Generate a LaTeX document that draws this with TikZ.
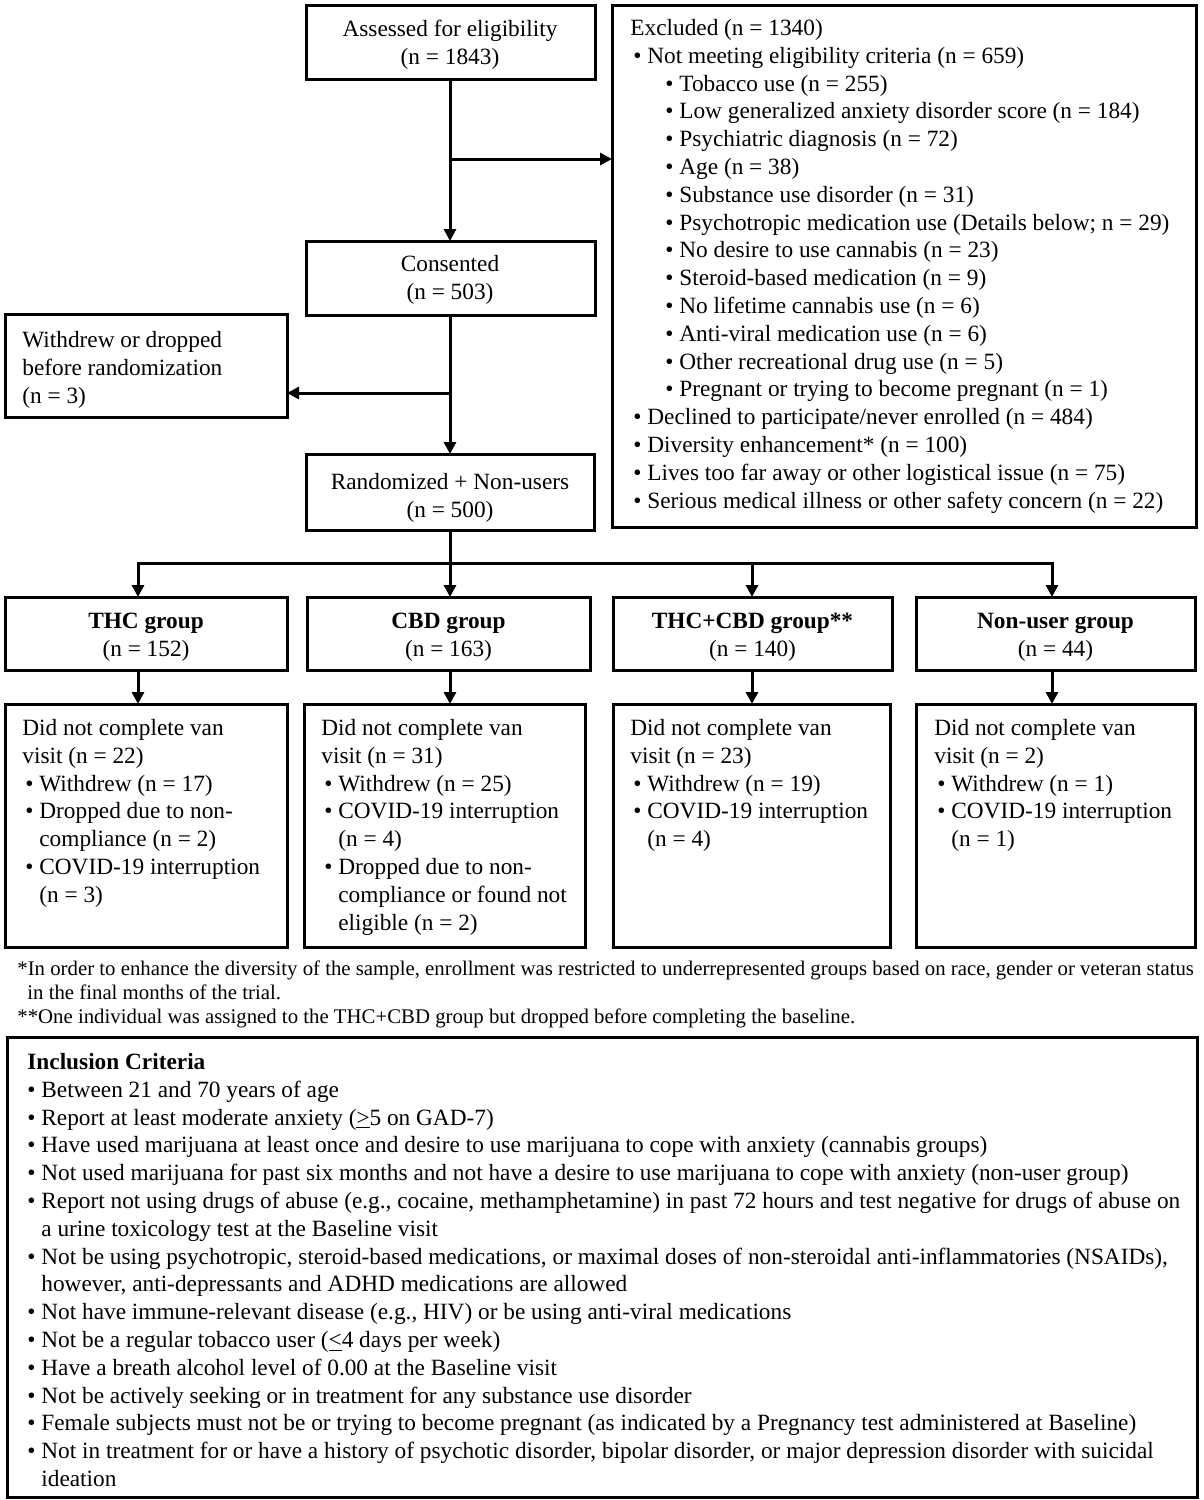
\documentclass[tikz,border=0pt]{standalone}
\usepackage{fontspec}
\setmainfont{Liberation Serif}
\usetikzlibrary{arrows.meta,fit}
\newcommand{\mystrut}{\rule{0pt}{9pt}}
\newcommand{\bul}{\textbullet\ }
\newcommand{\cont}{\hphantom{\textbullet\ }}
\begin{document}
\begin{tikzpicture}[x=0.5pt,y=-0.5pt,
  box/.style={draw, line width=1.5pt, inner sep=0pt, outer sep=0pt},
  arr/.style={line width=1.5pt, -{Triangle[length=6pt,width=6pt]}},
  ln/.style={line width=1.5pt},
  txt/.style={inner sep=0pt, anchor=north west, align=left, font=\fontsize{11.65}{13.9}\selectfont},
  ctxt/.style={inner sep=0pt, anchor=north, align=center, font=\fontsize{11.65}{13.9}\selectfont},
  ftxt/.style={inner sep=0pt, anchor=north west, align=left, font=\fontsize{10.4}{12}\selectfont}]
\useasboundingbox (0,0) rectangle (1204,1500);

% boxes
\node[box, fit={(306,5) (595,79)}] (assess) {};
\node[box, fit={(612,5) (1196,527)}] (excl) {};
\node[box, fit={(306,241) (595,315)}] (consent) {};
\node[box, fit={(5,314) (287,417)}] (wd) {};
\node[box, fit={(306,454) (594,530)}] (random) {};
\node[box, fit={(5,597) (287,670)}] (thcg) {};
\node[box, fit={(307,597) (590,670)}] (cbdg) {};
\node[box, fit={(613,597) (892,670)}] (tcg) {};
\node[box, fit={(916,597) (1195,670)}] (nug) {};
\node[box, fit={(5,704) (287,947)}] (thcd) {};
\node[box, fit={(304,704) (585,947)}] (cbdd) {};
\node[box, fit={(613,704) (890,947)}] (tcd) {};
\node[box, fit={(916,704) (1195,947)}] (nud) {};
\node[box, fit={(7,1037) (1197,1497)}] (incl) {};

% texts
\node[ctxt] (tassess) at (450,18) {\mystrut Assessed for eligibility\\(n = 1843)};
\node[ctxt] (tconsent) at (450,253) {\mystrut Consented\\(n = 503)};
\node[ctxt] (trandom) at (450,471) {\mystrut Randomized + Non-users\\(n = 500)};
\node[txt] (twd) at (22,329) {\mystrut Withdrew or dropped\\before randomization\\(n = 3)};
\node[txt] (texcl) at (630,17) {\mystrut Excluded (n = 1340)\\
\hspace*{1.5pt}\bul Not meeting eligibility criteria (n = 659)\\
\hspace*{17.5pt}\bul Tobacco use (n = 255)\\
\hspace*{17.5pt}\bul Low generalized anxiety disorder score (n = 184)\\
\hspace*{17.5pt}\bul Psychiatric diagnosis (n = 72)\\
\hspace*{17.5pt}\bul Age (n = 38)\\
\hspace*{17.5pt}\bul Substance use disorder (n = 31)\\
\hspace*{17.5pt}\bul Psychotropic medication use (Details below; n = 29)\\
\hspace*{17.5pt}\bul No desire to use cannabis (n = 23)\\
\hspace*{17.5pt}\bul Steroid-based medication (n = 9)\\
\hspace*{17.5pt}\bul No lifetime cannabis use (n = 6)\\
\hspace*{17.5pt}\bul Anti-viral medication use (n = 6)\\
\hspace*{17.5pt}\bul Other recreational drug use (n = 5)\\
\hspace*{17.5pt}\bul Pregnant or trying to become pregnant (n = 1)\\
\hspace*{1.5pt}\bul Declined to participate/never enrolled (n = 484)\\
\hspace*{1.5pt}\bul Diversity enhancement* (n = 100)\\
\hspace*{1.5pt}\bul Lives too far away or other logistical issue (n = 75)\\
\hspace*{1.5pt}\bul Serious medical illness or other safety concern (n = 22)};

\node[ctxt] (tthcg) at (146,610) {\mystrut\textbf{THC group}\\(n = 152)};
\node[ctxt] (tcbdg) at (448.5,610) {\mystrut\textbf{CBD group}\\(n = 163)};
\node[ctxt] (ttcg) at (752.5,610) {\mystrut\textbf{THC+CBD group**}\\(n = 140)};
\node[ctxt] (tnug) at (1055.5,610) {\mystrut\textbf{Non-user group}\\(n = 44)};

\node[txt] (tthcd) at (22,717) {\mystrut Did not complete van\\visit (n = 22)\\
\hspace*{1.5pt}\bul Withdrew (n = 17)\\
\hspace*{1.5pt}\bul Dropped due to non-\\
\hspace*{1.5pt}\cont compliance (n = 2)\\
\hspace*{1.5pt}\bul COVID-19 interruption\\
\hspace*{1.5pt}\cont (n = 3)};
\node[txt] (tcbdd) at (321,717) {\mystrut Did not complete van\\visit (n = 31)\\
\hspace*{1.5pt}\bul Withdrew (n = 25)\\
\hspace*{1.5pt}\bul COVID-19 interruption\\
\hspace*{1.5pt}\cont (n = 4)\\
\hspace*{1.5pt}\bul Dropped due to non-\\
\hspace*{1.5pt}\cont compliance or found not\\
\hspace*{1.5pt}\cont eligible (n = 2)};
\node[txt] (ttcd) at (630,717) {\mystrut Did not complete van\\visit (n = 23)\\
\hspace*{1.5pt}\bul Withdrew (n = 19)\\
\hspace*{1.5pt}\bul COVID-19 interruption\\
\hspace*{1.5pt}\cont (n = 4)};
\node[txt] (tnud) at (934,717) {\mystrut Did not complete van\\visit (n = 2)\\
\hspace*{1.5pt}\bul Withdrew (n = 1)\\
\hspace*{1.5pt}\bul COVID-19 interruption\\
\hspace*{1.5pt}\cont (n = 1)};

\node[ftxt] (foot) at (17,957) {\mystrut *In order to enhance the diversity of the sample, enrollment was restricted to underrepresented groups based on race, gender or veteran status\\
\hspace*{5pt}in the final months of the trial.\\
**One individual was assigned to the THC+CBD group but dropped before completing the baseline.};

\node[txt] (tincl) at (27,1051) {\mystrut\textbf{Inclusion Criteria}\\
\bul Between 21 and 70 years of age\\
\bul Report at least moderate anxiety (\underline{>}5 on GAD-7)\\
\bul Have used marijuana at least once and desire to use marijuana to cope with anxiety (cannabis groups)\\
\bul Not used marijuana for past six months and not have a desire to use marijuana to cope with anxiety (non-user group)\\
\bul Report not using drugs of abuse (e.g., cocaine, methamphetamine) in past 72 hours and test negative for drugs of abuse on\\
\cont a urine toxicology test at the Baseline visit\\
\bul Not be using psychotropic, steroid-based medications, or maximal doses of non-steroidal anti-inflammatories (NSAIDs),\\
\cont however, anti-depressants and ADHD medications are allowed\\
\bul Not have immune-relevant disease (e.g., HIV) or be using anti-viral medications\\
\bul Not be a regular tobacco user (\underline{<}4 days per week)\\
\bul Have a breath alcohol level of 0.00 at the Baseline visit\\
\bul Not be actively seeking or in treatment for any substance use disorder\\
\bul Female subjects must not be or trying to become pregnant (as indicated by a Pregnancy test administered at Baseline)\\
\bul Not in treatment for or have a history of psychotic disorder, bipolar disorder, or major depression disorder with suicidal\\
\cont ideation};

% connectors
\coordinate (b1) at (450,159);
\coordinate (b2) at (450,393);
\coordinate (split) at (450,563);
\coordinate (xthc) at (138,563);
\coordinate (xtc) at (752,563);
\coordinate (xnu) at (1052,563);
\draw[arr] (assess.south -| b1) -- (consent.north -| b1);
\draw[arr] (b1) -- (b1 -| excl.west);
\draw[arr] (consent.south -| b2) -- (random.north -| b2);
\draw[arr] (b2) -- (b2 -| wd.east);
\draw[arr] (random.south -| split) -- (cbdg.north -| split);
\draw[arr] (split) -- (xthc) -- (thcg.north -| xthc);
\draw[arr] (split) -- (xnu) -- (nug.north -| xnu);
\draw[arr] (xtc) -- (tcg.north -| xtc);
\draw[arr] (thcg.south -| xthc) -- (thcd.north -| xthc);
\draw[arr] (cbdg.south -| split) -- (cbdd.north -| split);
\draw[arr] (tcg.south -| xtc) -- (tcd.north -| xtc);
\draw[arr] (nug.south -| xnu) -- (nud.north -| xnu);
\end{tikzpicture}
\end{document}
